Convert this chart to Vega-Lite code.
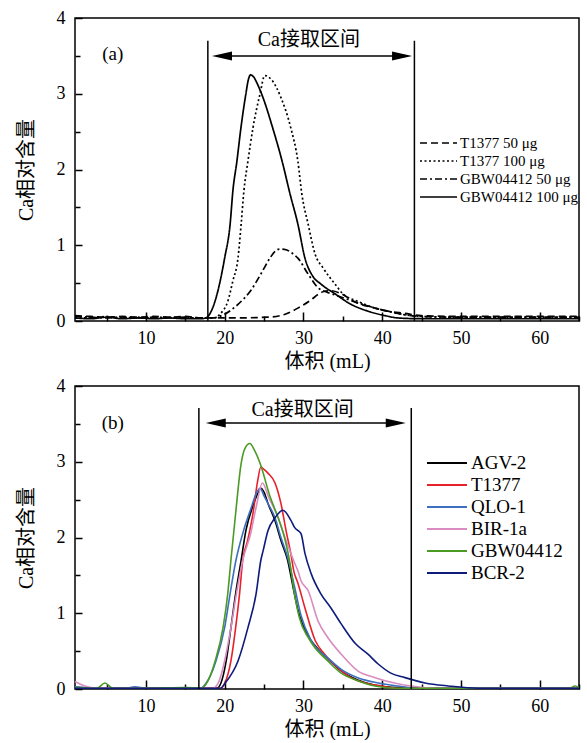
{
  "$schema": "https://vega.github.io/schema/vega-lite/v6.json",
  "padding": {"left": 15, "top": 8, "right": 0, "bottom": 0},
  "spacing": 4,
  "config": {
    "font": "Liberation Serif, Noto Sans CJK SC",
    "view": {"stroke": "black", "strokeWidth": 1.5},
    "axis": {"domain": false, "grid": false, "labelFont": "Liberation Serif", "labelFontSize": 18, "labelColor": "black", "titleFont": "Liberation Serif, Noto Sans CJK SC", "titleFontSize": 20, "titleFontWeight": "normal", "titleColor": "black"},
    "legend": {"labelFont": "Liberation Serif", "labelColor": "black"}
  },
  "resolve": {"scale": {"color": "independent", "strokeDash": "independent"}, "legend": {"color": "independent", "strokeDash": "independent"}},
  "datasets": {
    "a": [
      {"x": 1, "y": 0.07, "s": "T1377 50 μg"}, {"x": 3, "y": 0.06, "s": "T1377 50 μg"}, {"x": 5, "y": 0.05, "s": "T1377 50 μg"}, {"x": 7, "y": 0.06, "s": "T1377 50 μg"}, {"x": 9, "y": 0.05, "s": "T1377 50 μg"}, {"x": 11, "y": 0.06, "s": "T1377 50 μg"}, {"x": 13, "y": 0.05, "s": "T1377 50 μg"}, {"x": 15, "y": 0.06, "s": "T1377 50 μg"}, {"x": 17, "y": 0.04, "s": "T1377 50 μg"}, {"x": 20.8, "y": 0.04, "s": "T1377 50 μg"}, {"x": 25.5, "y": 0.05, "s": "T1377 50 μg"}, {"x": 27.7, "y": 0.09, "s": "T1377 50 μg"}, {"x": 29.3, "y": 0.17, "s": "T1377 50 μg"}, {"x": 31.0, "y": 0.28, "s": "T1377 50 μg"}, {"x": 31.85, "y": 0.35, "s": "T1377 50 μg"}, {"x": 32.6, "y": 0.39, "s": "T1377 50 μg"}, {"x": 33.5, "y": 0.40, "s": "T1377 50 μg"}, {"x": 34.8, "y": 0.36, "s": "T1377 50 μg"}, {"x": 36.6, "y": 0.25, "s": "T1377 50 μg"}, {"x": 39.1, "y": 0.17, "s": "T1377 50 μg"}, {"x": 40.75, "y": 0.13, "s": "T1377 50 μg"}, {"x": 42.9, "y": 0.10, "s": "T1377 50 μg"}, {"x": 45, "y": 0.07, "s": "T1377 50 μg"}, {"x": 50, "y": 0.06, "s": "T1377 50 μg"}, {"x": 55, "y": 0.06, "s": "T1377 50 μg"}, {"x": 60, "y": 0.06, "s": "T1377 50 μg"}, {"x": 65, "y": 0.06, "s": "T1377 50 μg"},
      {"x": 1, "y": 0.05, "s": "T1377 100 μg"}, {"x": 3, "y": 0.04, "s": "T1377 100 μg"}, {"x": 5, "y": 0.06, "s": "T1377 100 μg"}, {"x": 7, "y": 0.04, "s": "T1377 100 μg"}, {"x": 9, "y": 0.05, "s": "T1377 100 μg"}, {"x": 11, "y": 0.04, "s": "T1377 100 μg"}, {"x": 13, "y": 0.05, "s": "T1377 100 μg"}, {"x": 15, "y": 0.04, "s": "T1377 100 μg"}, {"x": 17, "y": 0.04, "s": "T1377 100 μg"}, {"x": 18.8, "y": 0.04, "s": "T1377 100 μg"}, {"x": 19.4, "y": 0.09, "s": "T1377 100 μg"}, {"x": 20.4, "y": 0.26, "s": "T1377 100 μg"}, {"x": 21.05, "y": 0.53, "s": "T1377 100 μg"}, {"x": 21.7, "y": 0.83, "s": "T1377 100 μg"}, {"x": 22.1, "y": 1.28, "s": "T1377 100 μg"}, {"x": 22.45, "y": 1.72, "s": "T1377 100 μg"}, {"x": 22.96, "y": 2.11, "s": "T1377 100 μg"}, {"x": 23.6, "y": 2.55, "s": "T1377 100 μg"}, {"x": 24.5, "y": 3.0, "s": "T1377 100 μg"}, {"x": 25.1, "y": 3.24, "s": "T1377 100 μg"}, {"x": 26.0, "y": 3.18, "s": "T1377 100 μg"}, {"x": 27.15, "y": 2.95, "s": "T1377 100 μg"}, {"x": 28.4, "y": 2.55, "s": "T1377 100 μg"}, {"x": 29.3, "y": 2.11, "s": "T1377 100 μg"}, {"x": 29.8, "y": 1.68, "s": "T1377 100 μg"}, {"x": 30.6, "y": 1.28, "s": "T1377 100 μg"}, {"x": 31.5, "y": 0.88, "s": "T1377 100 μg"}, {"x": 32.5, "y": 0.70, "s": "T1377 100 μg"}, {"x": 34.0, "y": 0.49, "s": "T1377 100 μg"}, {"x": 35.0, "y": 0.36, "s": "T1377 100 μg"}, {"x": 36.9, "y": 0.26, "s": "T1377 100 μg"}, {"x": 39.1, "y": 0.17, "s": "T1377 100 μg"}, {"x": 40.75, "y": 0.13, "s": "T1377 100 μg"}, {"x": 43, "y": 0.08, "s": "T1377 100 μg"}, {"x": 45, "y": 0.06, "s": "T1377 100 μg"}, {"x": 50, "y": 0.05, "s": "T1377 100 μg"}, {"x": 55, "y": 0.05, "s": "T1377 100 μg"}, {"x": 60, "y": 0.05, "s": "T1377 100 μg"}, {"x": 65, "y": 0.05, "s": "T1377 100 μg"},
      {"x": 1, "y": 0.06, "s": "GBW04412 50 μg"}, {"x": 3, "y": 0.05, "s": "GBW04412 50 μg"}, {"x": 5, "y": 0.04, "s": "GBW04412 50 μg"}, {"x": 7, "y": 0.05, "s": "GBW04412 50 μg"}, {"x": 9, "y": 0.04, "s": "GBW04412 50 μg"}, {"x": 11, "y": 0.05, "s": "GBW04412 50 μg"}, {"x": 13, "y": 0.04, "s": "GBW04412 50 μg"}, {"x": 15, "y": 0.05, "s": "GBW04412 50 μg"}, {"x": 17, "y": 0.04, "s": "GBW04412 50 μg"}, {"x": 18.3, "y": 0.04, "s": "GBW04412 50 μg"}, {"x": 20.0, "y": 0.09, "s": "GBW04412 50 μg"}, {"x": 21.7, "y": 0.22, "s": "GBW04412 50 μg"}, {"x": 23.3, "y": 0.40, "s": "GBW04412 50 μg"}, {"x": 24.6, "y": 0.62, "s": "GBW04412 50 μg"}, {"x": 25.75, "y": 0.83, "s": "GBW04412 50 μg"}, {"x": 26.4, "y": 0.92, "s": "GBW04412 50 μg"}, {"x": 27.0, "y": 0.95, "s": "GBW04412 50 μg"}, {"x": 27.8, "y": 0.94, "s": "GBW04412 50 μg"}, {"x": 28.5, "y": 0.90, "s": "GBW04412 50 μg"}, {"x": 29.3, "y": 0.83, "s": "GBW04412 50 μg"}, {"x": 30.6, "y": 0.62, "s": "GBW04412 50 μg"}, {"x": 31.85, "y": 0.44, "s": "GBW04412 50 μg"}, {"x": 33.0, "y": 0.38, "s": "GBW04412 50 μg"}, {"x": 34.4, "y": 0.33, "s": "GBW04412 50 μg"}, {"x": 36.9, "y": 0.24, "s": "GBW04412 50 μg"}, {"x": 39.5, "y": 0.16, "s": "GBW04412 50 μg"}, {"x": 42.0, "y": 0.10, "s": "GBW04412 50 μg"}, {"x": 45, "y": 0.06, "s": "GBW04412 50 μg"}, {"x": 50, "y": 0.05, "s": "GBW04412 50 μg"}, {"x": 55, "y": 0.05, "s": "GBW04412 50 μg"}, {"x": 60, "y": 0.05, "s": "GBW04412 50 μg"}, {"x": 65, "y": 0.05, "s": "GBW04412 50 μg"},
      {"x": 1, "y": 0.04, "s": "GBW04412 100 μg"}, {"x": 3, "y": 0.03, "s": "GBW04412 100 μg"}, {"x": 5, "y": 0.05, "s": "GBW04412 100 μg"}, {"x": 7, "y": 0.03, "s": "GBW04412 100 μg"}, {"x": 9, "y": 0.04, "s": "GBW04412 100 μg"}, {"x": 11, "y": 0.03, "s": "GBW04412 100 μg"}, {"x": 13, "y": 0.04, "s": "GBW04412 100 μg"}, {"x": 15, "y": 0.03, "s": "GBW04412 100 μg"}, {"x": 17, "y": 0.03, "s": "GBW04412 100 μg"}, {"x": 17.6, "y": 0.04, "s": "GBW04412 100 μg"}, {"x": 18.3, "y": 0.13, "s": "GBW04412 100 μg"}, {"x": 19.15, "y": 0.40, "s": "GBW04412 100 μg"}, {"x": 20.0, "y": 0.83, "s": "GBW04412 100 μg"}, {"x": 20.7, "y": 1.28, "s": "GBW04412 100 μg"}, {"x": 21.05, "y": 1.72, "s": "GBW04412 100 μg"}, {"x": 21.56, "y": 2.11, "s": "GBW04412 100 μg"}, {"x": 22.07, "y": 2.55, "s": "GBW04412 100 μg"}, {"x": 22.7, "y": 3.0, "s": "GBW04412 100 μg"}, {"x": 23.0, "y": 3.18, "s": "GBW04412 100 μg"}, {"x": 23.3, "y": 3.25, "s": "GBW04412 100 μg"}, {"x": 23.7, "y": 3.22, "s": "GBW04412 100 μg"}, {"x": 24.2, "y": 3.12, "s": "GBW04412 100 μg"}, {"x": 24.87, "y": 2.95, "s": "GBW04412 100 μg"}, {"x": 26.1, "y": 2.55, "s": "GBW04412 100 μg"}, {"x": 27.3, "y": 2.11, "s": "GBW04412 100 μg"}, {"x": 28.3, "y": 1.68, "s": "GBW04412 100 μg"}, {"x": 29.3, "y": 1.28, "s": "GBW04412 100 μg"}, {"x": 30.2, "y": 0.83, "s": "GBW04412 100 μg"}, {"x": 31.2, "y": 0.59, "s": "GBW04412 100 μg"}, {"x": 32.2, "y": 0.49, "s": "GBW04412 100 μg"}, {"x": 34.0, "y": 0.36, "s": "GBW04412 100 μg"}, {"x": 36.05, "y": 0.22, "s": "GBW04412 100 μg"}, {"x": 38.2, "y": 0.13, "s": "GBW04412 100 μg"}, {"x": 40.4, "y": 0.07, "s": "GBW04412 100 μg"}, {"x": 42, "y": 0.04, "s": "GBW04412 100 μg"}, {"x": 45, "y": 0.03, "s": "GBW04412 100 μg"}, {"x": 50, "y": 0.03, "s": "GBW04412 100 μg"}, {"x": 55, "y": 0.03, "s": "GBW04412 100 μg"}, {"x": 60, "y": 0.03, "s": "GBW04412 100 μg"}, {"x": 65, "y": 0.03, "s": "GBW04412 100 μg"}
    ],
    "b": [
      {"x": 1, "y": 0.02, "s": "AGV-2"}, {"x": 5, "y": 0.01, "s": "AGV-2"}, {"x": 10, "y": 0.01, "s": "AGV-2"}, {"x": 15, "y": 0.01, "s": "AGV-2"}, {"x": 19.0, "y": 0.01, "s": "AGV-2"}, {"x": 19.5, "y": 0.07, "s": "AGV-2"}, {"x": 20.2, "y": 0.37, "s": "AGV-2"}, {"x": 20.8, "y": 0.81, "s": "AGV-2"}, {"x": 21.4, "y": 1.26, "s": "AGV-2"}, {"x": 22.1, "y": 1.70, "s": "AGV-2"}, {"x": 22.7, "y": 2.09, "s": "AGV-2"}, {"x": 23.6, "y": 2.42, "s": "AGV-2"}, {"x": 24.3, "y": 2.60, "s": "AGV-2"}, {"x": 24.6, "y": 2.65, "s": "AGV-2"}, {"x": 25.0, "y": 2.60, "s": "AGV-2"}, {"x": 25.5, "y": 2.45, "s": "AGV-2"}, {"x": 26.4, "y": 2.22, "s": "AGV-2"}, {"x": 27.15, "y": 1.96, "s": "AGV-2"}, {"x": 28.0, "y": 1.70, "s": "AGV-2"}, {"x": 28.7, "y": 1.34, "s": "AGV-2"}, {"x": 29.3, "y": 1.05, "s": "AGV-2"}, {"x": 30.6, "y": 0.70, "s": "AGV-2"}, {"x": 31.5, "y": 0.57, "s": "AGV-2"}, {"x": 33.1, "y": 0.40, "s": "AGV-2"}, {"x": 34.8, "y": 0.24, "s": "AGV-2"}, {"x": 36.9, "y": 0.12, "s": "AGV-2"}, {"x": 39.1, "y": 0.05, "s": "AGV-2"}, {"x": 42.0, "y": 0.02, "s": "AGV-2"}, {"x": 50, "y": 0.01, "s": "AGV-2"}, {"x": 65, "y": 0.01, "s": "AGV-2"},
      {"x": 1, "y": 0.02, "s": "T1377"}, {"x": 5, "y": 0.01, "s": "T1377"}, {"x": 10, "y": 0.01, "s": "T1377"}, {"x": 15, "y": 0.01, "s": "T1377"}, {"x": 19.5, "y": 0.01, "s": "T1377"}, {"x": 20.0, "y": 0.07, "s": "T1377"}, {"x": 20.8, "y": 0.37, "s": "T1377"}, {"x": 21.4, "y": 0.81, "s": "T1377"}, {"x": 21.9, "y": 1.26, "s": "T1377"}, {"x": 22.3, "y": 1.70, "s": "T1377"}, {"x": 22.9, "y": 1.95, "s": "T1377"}, {"x": 23.6, "y": 2.32, "s": "T1377"}, {"x": 24.2, "y": 2.75, "s": "T1377"}, {"x": 24.6, "y": 2.93, "s": "T1377"}, {"x": 25.0, "y": 2.90, "s": "T1377"}, {"x": 25.5, "y": 2.85, "s": "T1377"}, {"x": 26.4, "y": 2.72, "s": "T1377"}, {"x": 27.15, "y": 2.45, "s": "T1377"}, {"x": 27.8, "y": 2.09, "s": "T1377"}, {"x": 28.4, "y": 1.79, "s": "T1377"}, {"x": 28.8, "y": 1.55, "s": "T1377"}, {"x": 29.3, "y": 1.40, "s": "T1377"}, {"x": 30.2, "y": 1.07, "s": "T1377"}, {"x": 31.5, "y": 0.64, "s": "T1377"}, {"x": 32.7, "y": 0.46, "s": "T1377"}, {"x": 34.4, "y": 0.28, "s": "T1377"}, {"x": 36.05, "y": 0.15, "s": "T1377"}, {"x": 37.8, "y": 0.08, "s": "T1377"}, {"x": 39.9, "y": 0.04, "s": "T1377"}, {"x": 42.0, "y": 0.01, "s": "T1377"}, {"x": 65, "y": 0.01, "s": "T1377"},
      {"x": 1, "y": 0.03, "s": "QLO-1"}, {"x": 5, "y": 0.01, "s": "QLO-1"}, {"x": 7.5, "y": 0.01, "s": "QLO-1"}, {"x": 8.6, "y": 0.03, "s": "QLO-1"}, {"x": 10, "y": 0.01, "s": "QLO-1"}, {"x": 15, "y": 0.01, "s": "QLO-1"}, {"x": 17, "y": 0.01, "s": "QLO-1"}, {"x": 17.6, "y": 0.07, "s": "QLO-1"}, {"x": 18.9, "y": 0.37, "s": "QLO-1"}, {"x": 20.0, "y": 0.81, "s": "QLO-1"}, {"x": 20.7, "y": 1.26, "s": "QLO-1"}, {"x": 21.4, "y": 1.68, "s": "QLO-1"}, {"x": 22.4, "y": 2.09, "s": "QLO-1"}, {"x": 23.4, "y": 2.40, "s": "QLO-1"}, {"x": 24.0, "y": 2.58, "s": "QLO-1"}, {"x": 24.5, "y": 2.65, "s": "QLO-1"}, {"x": 25.0, "y": 2.55, "s": "QLO-1"}, {"x": 25.5, "y": 2.45, "s": "QLO-1"}, {"x": 26.4, "y": 2.26, "s": "QLO-1"}, {"x": 27.15, "y": 2.0, "s": "QLO-1"}, {"x": 28.0, "y": 1.74, "s": "QLO-1"}, {"x": 28.9, "y": 1.34, "s": "QLO-1"}, {"x": 29.7, "y": 0.97, "s": "QLO-1"}, {"x": 31.0, "y": 0.64, "s": "QLO-1"}, {"x": 33.1, "y": 0.41, "s": "QLO-1"}, {"x": 34.8, "y": 0.26, "s": "QLO-1"}, {"x": 36.9, "y": 0.15, "s": "QLO-1"}, {"x": 39.5, "y": 0.08, "s": "QLO-1"}, {"x": 42.0, "y": 0.04, "s": "QLO-1"}, {"x": 44.6, "y": 0.01, "s": "QLO-1"}, {"x": 65, "y": 0.01, "s": "QLO-1"},
      {"x": 1, "y": 0.10, "s": "BIR-1a"}, {"x": 2, "y": 0.05, "s": "BIR-1a"}, {"x": 3, "y": 0.02, "s": "BIR-1a"}, {"x": 5, "y": 0.01, "s": "BIR-1a"}, {"x": 10, "y": 0.01, "s": "BIR-1a"}, {"x": 15, "y": 0.01, "s": "BIR-1a"}, {"x": 18.5, "y": 0.01, "s": "BIR-1a"}, {"x": 19.15, "y": 0.07, "s": "BIR-1a"}, {"x": 20.0, "y": 0.37, "s": "BIR-1a"}, {"x": 20.8, "y": 0.81, "s": "BIR-1a"}, {"x": 21.5, "y": 1.26, "s": "BIR-1a"}, {"x": 22.3, "y": 1.70, "s": "BIR-1a"}, {"x": 23.3, "y": 2.05, "s": "BIR-1a"}, {"x": 24.0, "y": 2.40, "s": "BIR-1a"}, {"x": 24.8, "y": 2.72, "s": "BIR-1a"}, {"x": 25.6, "y": 2.53, "s": "BIR-1a"}, {"x": 26.8, "y": 2.26, "s": "BIR-1a"}, {"x": 27.8, "y": 1.96, "s": "BIR-1a"}, {"x": 28.9, "y": 1.66, "s": "BIR-1a"}, {"x": 29.3, "y": 1.56, "s": "BIR-1a"}, {"x": 29.7, "y": 1.43, "s": "BIR-1a"}, {"x": 30.6, "y": 1.30, "s": "BIR-1a"}, {"x": 31.85, "y": 0.90, "s": "BIR-1a"}, {"x": 33.1, "y": 0.68, "s": "BIR-1a"}, {"x": 34.8, "y": 0.46, "s": "BIR-1a"}, {"x": 36.9, "y": 0.24, "s": "BIR-1a"}, {"x": 39.1, "y": 0.15, "s": "BIR-1a"}, {"x": 42.0, "y": 0.07, "s": "BIR-1a"}, {"x": 43.7, "y": 0.04, "s": "BIR-1a"}, {"x": 47, "y": 0.01, "s": "BIR-1a"}, {"x": 65, "y": 0.01, "s": "BIR-1a"},
      {"x": 1, "y": 0.02, "s": "GBW04412"}, {"x": 3.8, "y": 0.01, "s": "GBW04412"}, {"x": 4.8, "y": 0.08, "s": "GBW04412"}, {"x": 5.8, "y": 0.01, "s": "GBW04412"}, {"x": 10, "y": 0.01, "s": "GBW04412"}, {"x": 15, "y": 0.02, "s": "GBW04412"}, {"x": 17.0, "y": 0.01, "s": "GBW04412"}, {"x": 17.9, "y": 0.11, "s": "GBW04412"}, {"x": 18.8, "y": 0.37, "s": "GBW04412"}, {"x": 19.8, "y": 0.81, "s": "GBW04412"}, {"x": 20.4, "y": 1.26, "s": "GBW04412"}, {"x": 20.8, "y": 1.70, "s": "GBW04412"}, {"x": 21.4, "y": 2.32, "s": "GBW04412"}, {"x": 22.1, "y": 2.98, "s": "GBW04412"}, {"x": 22.6, "y": 3.18, "s": "GBW04412"}, {"x": 23.2, "y": 3.24, "s": "GBW04412"}, {"x": 23.8, "y": 3.15, "s": "GBW04412"}, {"x": 24.5, "y": 2.98, "s": "GBW04412"}, {"x": 25.8, "y": 2.53, "s": "GBW04412"}, {"x": 26.8, "y": 2.26, "s": "GBW04412"}, {"x": 27.7, "y": 1.96, "s": "GBW04412"}, {"x": 28.3, "y": 1.66, "s": "GBW04412"}, {"x": 28.8, "y": 1.30, "s": "GBW04412"}, {"x": 29.5, "y": 0.94, "s": "GBW04412"}, {"x": 30.6, "y": 0.68, "s": "GBW04412"}, {"x": 31.5, "y": 0.54, "s": "GBW04412"}, {"x": 33.1, "y": 0.37, "s": "GBW04412"}, {"x": 34.8, "y": 0.21, "s": "GBW04412"}, {"x": 36.9, "y": 0.11, "s": "GBW04412"}, {"x": 39.1, "y": 0.04, "s": "GBW04412"}, {"x": 42.0, "y": 0.01, "s": "GBW04412"}, {"x": 63.8, "y": 0.01, "s": "GBW04412"}, {"x": 64.5, "y": 0.04, "s": "GBW04412"}, {"x": 65, "y": 0.02, "s": "GBW04412"},
      {"x": 1, "y": 0.01, "s": "BCR-2"}, {"x": 10, "y": 0.01, "s": "BCR-2"}, {"x": 15, "y": 0.01, "s": "BCR-2"}, {"x": 19.5, "y": 0.01, "s": "BCR-2"}, {"x": 20.0, "y": 0.07, "s": "BCR-2"}, {"x": 21.7, "y": 0.37, "s": "BCR-2"}, {"x": 22.96, "y": 0.81, "s": "BCR-2"}, {"x": 24.0, "y": 1.26, "s": "BCR-2"}, {"x": 24.6, "y": 1.70, "s": "BCR-2"}, {"x": 24.9, "y": 1.83, "s": "BCR-2"}, {"x": 25.5, "y": 2.09, "s": "BCR-2"}, {"x": 26.4, "y": 2.26, "s": "BCR-2"}, {"x": 27.4, "y": 2.36, "s": "BCR-2"}, {"x": 28.4, "y": 2.23, "s": "BCR-2"}, {"x": 28.9, "y": 2.13, "s": "BCR-2"}, {"x": 29.7, "y": 2.05, "s": "BCR-2"}, {"x": 30.2, "y": 1.79, "s": "BCR-2"}, {"x": 31.0, "y": 1.52, "s": "BCR-2"}, {"x": 32.2, "y": 1.26, "s": "BCR-2"}, {"x": 33.5, "y": 1.07, "s": "BCR-2"}, {"x": 34.8, "y": 0.86, "s": "BCR-2"}, {"x": 36.6, "y": 0.60, "s": "BCR-2"}, {"x": 38.2, "y": 0.46, "s": "BCR-2"}, {"x": 39.5, "y": 0.33, "s": "BCR-2"}, {"x": 41.1, "y": 0.21, "s": "BCR-2"}, {"x": 42.9, "y": 0.15, "s": "BCR-2"}, {"x": 45.45, "y": 0.08, "s": "BCR-2"}, {"x": 48.4, "y": 0.04, "s": "BCR-2"}, {"x": 52.2, "y": 0.01, "s": "BCR-2"}, {"x": 65, "y": 0.01, "s": "BCR-2"}
    ]
  },
  "vconcat": [
    {
      "width": 504,
      "height": 303,
      "encoding": {
        "x": {"type": "quantitative", "scale": {"domain": [1, 65], "nice": false, "zero": false}, "axis": {"ticks": true, "values": [5, 10, 15, 20, 25, 30, 35, 40, 45, 50, 55, 60, 65], "labelExpr": "datum.value % 10 === 0 ? format(datum.value, 'd') : ''", "offset": -9, "tickSize": 9, "tickColor": "black", "tickWidth": 1.5, "tickDash": {"condition": {"test": "datum.value % 10 === 0", "value": [1, 0]}, "value": [0, 4, 5, 20]}, "labelPadding": 8, "title": "体积 (mL)", "titlePadding": 4}},
        "y": {"type": "quantitative", "scale": {"domain": [0, 4], "nice": false}, "axis": {"ticks": true, "values": [0, 0.5, 1, 1.5, 2, 2.5, 3, 3.5, 4], "labelExpr": "datum.value % 1 === 0 ? format(datum.value, 'd') : ''", "offset": -7, "tickSize": 7, "tickColor": "black", "tickWidth": 1.5, "tickDash": {"condition": {"test": "datum.value % 1 === 0", "value": [1, 0]}, "value": [0, 2, 5, 20]}, "labelPadding": 10, "title": "Ca相对含量", "titlePadding": 20}}
      },
      "layer": [
        {
          "data": {"name": "a"},
          "mark": {"type": "line", "color": "black", "strokeWidth": 1.7, "interpolate": "monotone"},
          "encoding": {
            "x": {"field": "x"},
            "y": {"field": "y"},
            "strokeDash": {"field": "s", "type": "nominal", "scale": {"domain": ["T1377 50 μg", "T1377 100 μg", "GBW04412 50 μg", "GBW04412 100 μg"], "range": [[7, 4], [2, 2.5], [7, 3, 2, 3], [1, 0]]}, "legend": {"orient": "none", "legendX": 344, "legendY": 117, "title": null, "symbolType": "stroke", "symbolSize": 1369, "symbolStrokeWidth": 1.6, "symbolStrokeColor": "black", "labelFontSize": 15, "labelOffset": 2, "clipHeight": 16, "rowPadding": 2, "padding": 0}}
          }
        },
        {"data": {"values": [{"x": 17.87, "y": 3.7, "y2": 0}, {"x": 44.1, "y": 3.7, "y2": 0}]}, "mark": {"type": "rule", "color": "black", "strokeWidth": 1.5}, "encoding": {"x": {"field": "x"}, "y": {"field": "y"}, "y2": {"field": "y2"}}},
        {"data": {"values": [{"x": 19, "x2": 43.3, "y": 3.5}]}, "mark": {"type": "rule", "color": "black", "strokeWidth": 1.5}, "encoding": {"x": {"field": "x"}, "x2": {"field": "x2"}, "y": {"field": "y"}}},
        {"data": {"values": [{"x": 18.4, "y": 3.5, "dir": "L"}, {"x": 43.8, "y": 3.5, "dir": "R"}]}, "mark": {"type": "point", "filled": true, "color": "black", "opacity": 1, "size": 400}, "encoding": {"x": {"field": "x"}, "y": {"field": "y"}, "shape": {"field": "dir", "type": "nominal", "scale": {"domain": ["L", "R"], "range": ["M0,0L2,-0.45L2,0.45Z", "M0,0L-2,-0.45L-2,0.45Z"]}, "legend": null}}},
        {"data": {"values": [{"x": 30.7, "y": 3.71, "label": "Ca接取区间"}]}, "mark": {"type": "text", "fontSize": 20, "color": "black", "font": "Liberation Serif, Noto Sans CJK SC"}, "encoding": {"x": {"field": "x"}, "y": {"field": "y"}, "text": {"field": "label"}}},
        {"data": {"values": [{"x": 5.8, "y": 3.52, "label": "(a)"}]}, "mark": {"type": "text", "fontSize": 19, "color": "black", "font": "Liberation Serif"}, "encoding": {"x": {"field": "x"}, "y": {"field": "y"}, "text": {"field": "label"}}}
      ]
    },
    {
      "width": 504,
      "height": 303,
      "encoding": {
        "x": {"type": "quantitative", "scale": {"domain": [1, 65], "nice": false, "zero": false}, "axis": {"ticks": true, "values": [5, 10, 15, 20, 25, 30, 35, 40, 45, 50, 55, 60, 65], "labelExpr": "datum.value % 10 === 0 ? format(datum.value, 'd') : ''", "offset": -9, "tickSize": 9, "tickColor": "black", "tickWidth": 1.5, "tickDash": {"condition": {"test": "datum.value % 10 === 0", "value": [1, 0]}, "value": [0, 4, 5, 20]}, "labelPadding": 8, "title": "体积 (mL)", "titlePadding": 4}},
        "y": {"type": "quantitative", "scale": {"domain": [0, 4], "nice": false}, "axis": {"ticks": true, "values": [0, 0.5, 1, 1.5, 2, 2.5, 3, 3.5, 4], "labelExpr": "datum.value % 1 === 0 ? format(datum.value, 'd') : ''", "offset": -7, "tickSize": 7, "tickColor": "black", "tickWidth": 1.5, "tickDash": {"condition": {"test": "datum.value % 1 === 0", "value": [1, 0]}, "value": [0, 2, 5, 20]}, "labelPadding": 10, "title": "Ca相对含量", "titlePadding": 20}}
      },
      "layer": [
        {
          "data": {"name": "b"},
          "mark": {"type": "line", "strokeWidth": 1.6, "interpolate": "monotone"},
          "encoding": {
            "x": {"field": "x"},
            "y": {"field": "y"},
            "color": {"field": "s", "type": "nominal", "scale": {"domain": ["AGV-2", "T1377", "QLO-1", "BIR-1a", "GBW04412", "BCR-2"], "range": ["#000000", "#e8202a", "#3d6fc0", "#d98cc0", "#4b9a24", "#0d1b7c"]}, "legend": {"orient": "none", "legendX": 351, "legendY": 67, "title": null, "symbolType": "stroke", "symbolSize": 1600, "symbolStrokeWidth": 1.8, "labelFontSize": 19, "labelOffset": 3, "clipHeight": 20, "rowPadding": 2, "padding": 0}}
          }
        },
        {"data": {"values": [{"x": 16.73, "y": 3.71, "y2": 0}, {"x": 43.7, "y": 3.71, "y2": 0}]}, "mark": {"type": "rule", "color": "black", "strokeWidth": 1.5}, "encoding": {"x": {"field": "x"}, "y": {"field": "y"}, "y2": {"field": "y2"}}},
        {"data": {"values": [{"x": 18.2, "x2": 42.5, "y": 3.51}]}, "mark": {"type": "rule", "color": "black", "strokeWidth": 1.5}, "encoding": {"x": {"field": "x"}, "x2": {"field": "x2"}, "y": {"field": "y"}}},
        {"data": {"values": [{"x": 17.6, "y": 3.51, "dir": "L"}, {"x": 43.0, "y": 3.51, "dir": "R"}]}, "mark": {"type": "point", "filled": true, "color": "black", "opacity": 1, "size": 400}, "encoding": {"x": {"field": "x"}, "y": {"field": "y"}, "shape": {"field": "dir", "type": "nominal", "scale": {"domain": ["L", "R"], "range": ["M0,0L2,-0.45L2,0.45Z", "M0,0L-2,-0.45L-2,0.45Z"]}, "legend": null}}},
        {"data": {"values": [{"x": 29.9, "y": 3.68, "label": "Ca接取区间"}]}, "mark": {"type": "text", "fontSize": 20, "color": "black", "font": "Liberation Serif, Noto Sans CJK SC"}, "encoding": {"x": {"field": "x"}, "y": {"field": "y"}, "text": {"field": "label"}}},
        {"data": {"values": [{"x": 5.8, "y": 3.51, "label": "(b)"}]}, "mark": {"type": "text", "fontSize": 19, "color": "black", "font": "Liberation Serif"}, "encoding": {"x": {"field": "x"}, "y": {"field": "y"}, "text": {"field": "label"}}}
      ]
    }
  ]
}
